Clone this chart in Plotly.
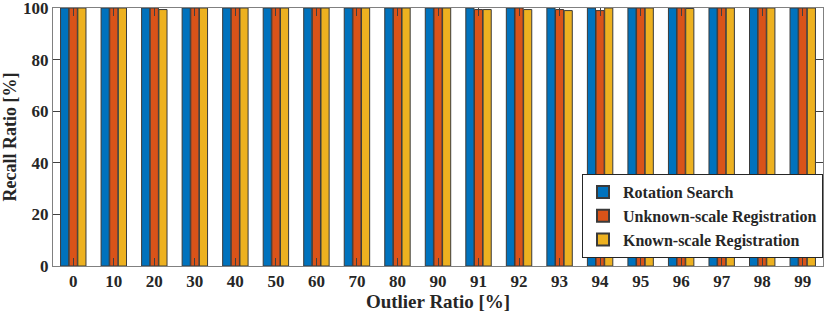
import plotly.graph_objects as go

categories = ["0", "10", "20", "30", "40", "50", "60", "70", "80", "90",
              "91", "92", "93", "94", "95", "96", "97", "98", "99"]
rotation_search = [100] * 19
unknown_scale = [100, 100, 100, 100, 100, 100, 100, 100, 100, 100,
                 99.4, 100, 99.4, 99.0, 100, 100, 100, 100, 100]
known_scale = [100, 100, 99.4, 100, 100, 100, 100, 100, 100, 100,
               99.4, 99.4, 99.0, 100, 100, 99.8, 100, 100, 100]
y_ticks = [0, 20, 40, 60, 80, 100]

series = [
    ("Rotation Search", rotation_search, "#0072BD"),
    ("Unknown-scale Registration", unknown_scale, "#D95319"),
    ("Known-scale Registration", known_scale, "#EDB120"),
]

font_family = "Liberation Serif, Times New Roman, serif"

fig = go.Figure()
for name, vals, col in series:
    fig.add_trace(go.Bar(
        x=categories, y=vals, name="<b>" + name + "</b>",
        marker=dict(color=col, line=dict(color="#3a3a3a", width=1)),
    ))

axis_common = dict(
    showline=True, linecolor="#808080", linewidth=1, mirror="ticks",
    ticks="inside", ticklen=8, tickcolor="#404040", tickwidth=1,
    showgrid=False, zeroline=False, automargin=False,
    ticklabeloverflow="allow",
    tickfont=dict(family=font_family, size=17, color="#262626"),
)

fig.update_layout(
    width=831, height=315,
    margin=dict(l=53, r=8, t=8, b=49),
    paper_bgcolor="white", plot_bgcolor="white",
    barmode="group", bargap=0.36, bargroupgap=0.06,
    font=dict(family=font_family, color="#262626"),
    xaxis=dict(**axis_common,
               title=dict(text="<b>Outlier Ratio [%]</b>",
                          font=dict(family=font_family, size=19, color="#262626"),
                          standoff=1)),
    yaxis=dict(**axis_common, range=[0, 100], tickmode="array",
               tickvals=y_ticks, ticktext=["<b>%d</b>" % v for v in y_ticks],
               title=dict(text="<b>Recall Ratio [%]</b>",
                          font=dict(family=font_family, size=18, color="#262626"),
                          standoff=4)),
    legend=dict(
        x=1, y=0.031, xanchor="right", yanchor="bottom",
        bgcolor="white", bordercolor="#262626", borderwidth=1,
        font=dict(family=font_family, size=16, color="#262626"),
        tracegroupgap=0, itemsizing="constant",
    ),
)
fig.update_xaxes(tickprefix="<b>", ticksuffix="</b>")

fig.write_html("out.html", config={"displayModeBar": False},
               post_script="document.body.style.margin='0';")
